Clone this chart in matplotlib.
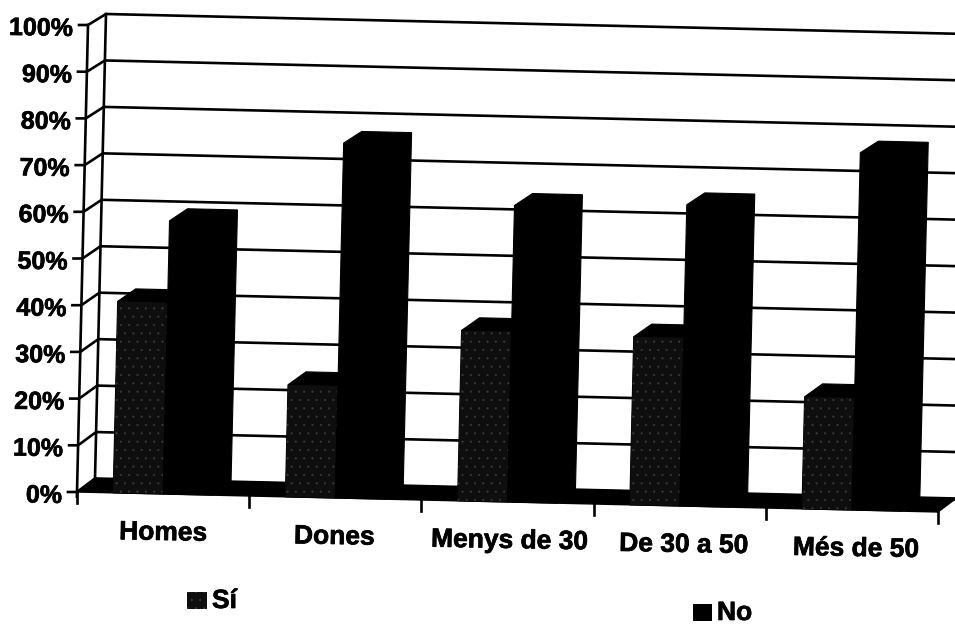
import matplotlib
matplotlib.use("Agg")
import matplotlib.pyplot as plt
import matplotlib.patheffects as pe
from matplotlib.patches import Polygon, Rectangle

plt.rcParams['font.family'] = ['Liberation Sans', 'DejaVu Sans']
plt.rcParams['hatch.linewidth'] = 0.3

categories = ['Homes', 'Dones', 'Menys de 30', 'De 30 a 50', 'Més de 50']
si = [41, 24, 36.5, 36, 24]
no = [58.5, 76, 63.5, 64.5, 76.5]
y_ticks = [0, 10, 20, 30, 40, 50, 60, 70, 80, 90, 100]
label_dx = [0, -1, 2, 4, 4]

# skewed page: the scan is a little rotated
def pt(cat, pct, depth=0):
    x = 77 + 172.2 * cat + 0.11 * pct + 18 * depth
    y = 492 + 4.0 * cat - 4.67 * pct - (13.5 - 0.025 * pct) * depth
    return (x, y)

fig = plt.figure(figsize=(9.55, 6.25), dpi=100)
ax = fig.add_axes([0, 0, 1, 1])
ax.set_xlim(0, 955)
ax.set_ylim(625, 0)
ax.axis('off')

LW = 1.9
thick = [pe.withStroke(linewidth=0.5, foreground='black')]

# back wall grid + side wall
for t in y_ticks:
    a = pt(0, t)
    b = pt(0, t, 1)
    c = pt(5.1, t, 1)
    ax.plot([a[0] - 9, a[0], b[0], c[0]], [a[1], a[1], b[1], c[1]],
            color='black', lw=LW, zorder=1)
ax.plot(*zip(pt(0, -1), pt(0, 100)), color='black', lw=LW, zorder=1)
ax.plot(*zip(pt(0, 0, 1), pt(0, 100, 1)), color='black', lw=LW, zorder=1)

# floor
ax.add_patch(Polygon([pt(0, 0), pt(0, 0, 1), pt(5, 0, 1), pt(5, 0)],
                     facecolor='black', edgecolor='black', lw=1, zorder=2))
ax.plot([pt(5, 0, 1)[0], 955], [pt(5, 0, 1)[1]] * 2, color='black', lw=LW, zorder=2)
for i in range(6):
    p = pt(i, 0)
    ax.plot([p[0], p[0]], [p[1], p[1] + 11], color='black', lw=LW, zorder=2)

# bars
left = 0.21
w = 0.29
for i in range(len(categories)):
    x0 = i + left
    x1 = x0 + w
    x2 = x1 + w
    # Si: black body, speckled front face
    ax.add_patch(Polygon([pt(x0, 0), pt(x0, si[i]), pt(x0, si[i], 1), pt(x1, si[i], 1), pt(x1, 0)],
                         facecolor='black', edgecolor='black', lw=0.8, zorder=3))
    ax.add_patch(Polygon([pt(x0, 0), pt(x0, si[i]), pt(x1, si[i]), pt(x1, 0)],
                         facecolor='#0e0e0e', edgecolor='#3c3c3c', hatch='..', lw=0, zorder=4))
    # No
    ax.add_patch(Polygon([pt(x1, 0), pt(x1, no[i]), pt(x1, no[i], 1), pt(x2, no[i], 1),
                          pt(x2, 0, 1), pt(x2, 0)],
                         facecolor='black', edgecolor='black', lw=0.8, zorder=5))

# tick labels
for t in y_ticks:
    p = pt(0, t)
    ax.text(p[0] - 15, p[1] + 4, f'{t}%', ha='right', va='center', fontsize=18,
            fontweight='bold', rotation=-1, rotation_mode='anchor', zorder=6, path_effects=thick)
for i, c in enumerate(categories):
    p = pt(i + 0.5, 0)
    ax.text(p[0] + label_dx[i], p[1] + 39, c, ha='center', va='center', fontsize=19,
            fontweight='bold', rotation=-1, rotation_mode='anchor', zorder=6, path_effects=thick)

# legend
ax.add_patch(Rectangle((187, 592), 20, 17, facecolor='#0e0e0e', edgecolor='#3c3c3c', hatch='..', lw=0))
ax.text(212, 601, 'Sí', ha='left', va='center', fontsize=19, fontweight='bold', path_effects=thick)
ax.add_patch(Rectangle((693, 604), 19, 17, facecolor='black', lw=0))
ax.text(717, 613, 'No', ha='left', va='center', fontsize=19, fontweight='bold', path_effects=thick)

fig.savefig('out.png', dpi=100)
